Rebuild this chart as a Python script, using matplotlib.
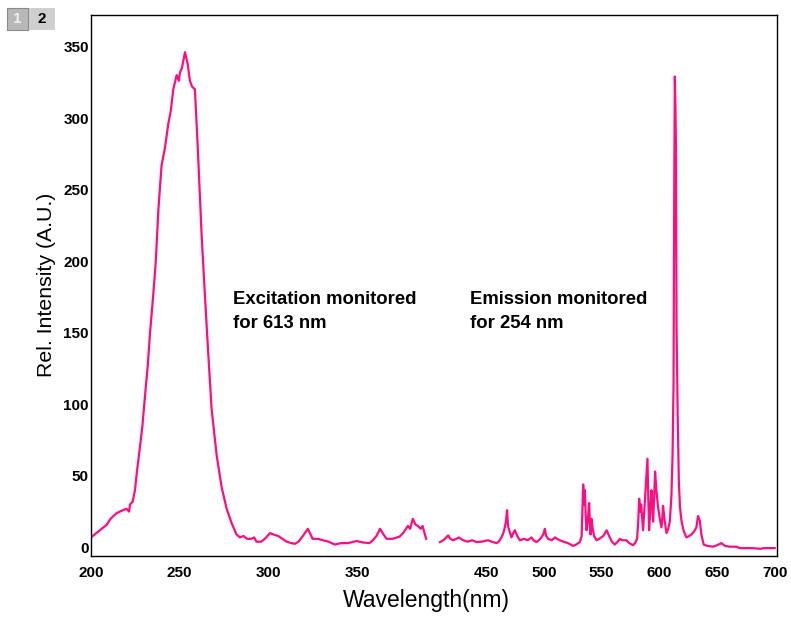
import numpy as np
import matplotlib
matplotlib.use("Agg")
import matplotlib.pyplot as plt
from matplotlib.patches import Rectangle

# excitation spectrum (monitored at 613 nm)
exc_wl = [200, 203, 206, 209, 211, 214.5, 218, 220, 221.5, 222, 223.5, 224.8, 226, 227.6,
          229, 230.4, 232, 233.3, 235, 236.5, 238, 239.8, 241.7, 243.6, 245, 246.4, 248.3,
          249.5, 250.2, 251.3, 253, 254.5, 255.8, 257, 258.6, 260.3, 262.4, 264.3, 266.1,
          268, 270.9, 273.7, 276.5, 279.3, 282.1, 284, 286, 288, 290.5, 292, 293.3, 296,
          298, 301, 303, 305.5, 308, 310.3, 313, 315, 317, 319.5, 322.3, 325, 328, 330.8,
          334, 337.5, 341, 345, 349.8, 353, 357, 359, 361, 363, 365, 366.7, 370, 374,
          376, 378.7, 380, 381.5, 383, 384.3, 386, 387, 389]
exc_val = [7, 10, 13, 16, 20, 24, 26, 27, 25, 30, 32, 40, 54, 70,
           85, 105, 127, 150, 175, 199, 236, 267, 279, 296, 305, 320, 330,
           326, 332, 335, 346, 338, 326, 322, 320, 277, 218, 175, 136,
           97, 64, 42, 27, 17, 9, 7, 8, 6, 6, 7, 4, 4,
           6, 10, 9, 8, 6, 4, 3, 2.5, 4, 8, 13, 6, 6, 5,
           4, 2, 3, 3, 4.5, 3.5, 3, 5, 8, 13, 9, 6, 6, 7.5,
           10, 15, 13, 20, 16, 15, 13, 15, 6]

# emission spectrum (excited at 254 nm)
em_wl = [410, 413, 417.2, 419, 421.5, 424, 426.7, 428, 430.2, 434, 438, 441.8, 446, 451.8,
         455, 459, 461, 463.3, 465, 466.2, 467.2, 468.2, 469, 470, 472, 473.5, 474.9, 477,
         479.2, 483, 486, 489.4, 491, 493.7, 497, 499.5, 500.9, 502, 503.8, 507, 509.6,
         511.5, 513.9, 517, 521, 525.5, 528, 531.2, 532.8, 534.1, 535, 535.6, 536.3, 537,
         538, 539.3, 540, 540.5, 541.3, 542.2, 543.5, 545.7, 548, 551.5, 553, 554.4, 556,
         557.2, 559, 561.5, 564, 565.8, 568, 571.6, 574, 577.4, 579, 580.8, 581.8, 582.6,
         583.5, 584.3, 585.2, 586, 587, 588, 589, 589.8, 590.5, 591.2, 592.2, 593.2, 594,
         594.7, 595.6, 596.4, 597.5, 599, 600.5, 601.9, 602.6, 603.3, 604.8, 606.3, 607.8,
         609.1, 610.5, 611.5, 612.4, 613, 613.5, 614, 614.5, 615, 616, 617, 618, 619.2,
         621, 623.5, 626, 627.9, 630, 632.2, 633.6, 634.5, 635.1, 636.5, 638.5, 642, 646.6,
         650, 653.8, 657, 661, 666.8, 669.7, 675, 680, 688, 690, 700]
em_val = [3.7, 5, 8.4, 6, 5, 6, 7, 6, 5, 4, 5, 3.7, 4, 5,
          4, 3, 4, 7, 10, 14, 18, 26, 15, 12, 7, 10, 12, 8,
          5, 6, 5, 7, 5, 3.7, 6, 9, 13, 8, 6, 5, 7,
          6, 5, 4, 3, 1, 2, 3.7, 8, 44, 30, 40, 22, 12,
          18, 31, 15, 9, 20, 14, 8, 5, 6, 8, 10, 12, 9,
          7, 4, 2, 4, 6, 5, 5, 3, 1.5, 3, 6, 18, 34,
          25, 30, 20, 12, 25, 37, 50, 62, 35, 12, 25, 40, 30,
          18, 35, 53, 40, 28, 20, 14, 20, 29, 18, 10, 13,
          18, 35, 63, 115, 252, 329, 310, 278, 154, 91, 45, 28, 19,
          12, 7, 8, 9, 11, 14, 22, 20, 19, 9, 2, 1, 0.5,
          1.5, 3, 1, 0.5, 0.5, -0.5, -0.5, -0.5, -1, -0.5, -0.5]

x_ticks = [200, 250, 300, 350, 450, 500, 550, 600, 650, 700]
y_ticks = [0, 50, 100, 150, 200, 250, 300, 350]

# the two spectra share one axis but at different nm-per-pixel scales
brk_nm = [150, 390, 410, 720]
brk_px = [2.3, 428, 440, 798]


def fwd(x):
    return np.interp(x, brk_nm, brk_px)


def inv(p):
    return np.interp(p, brk_px, brk_nm)


plt.rcParams['font.family'] = ['Liberation Sans', 'DejaVu Sans']

W, H = 791, 617
fig = plt.figure(figsize=(W / 100, H / 100), dpi=100)
ax = fig.add_axes([91 / W, 61 / H, 686 / W, 541 / H])
ax.set_xscale('function', functions=(fwd, inv))

pink = '#ff0d80'
ax.plot(exc_wl, exc_val, color=pink, lw=1.6)
ax.plot(em_wl, em_val, color=pink, lw=1.6)

ax.set_xlim(200, 702)
ax.set_ylim(-6, 372)
ax.set_xticks(x_ticks)
ax.set_xticklabels([str(t) for t in x_ticks])
ax.set_yticks(y_ticks)
ax.xaxis.set_minor_locator(plt.NullLocator())
ax.tick_params(length=0, labelsize=11)
ax.tick_params(axis='x', pad=7)
ax.tick_params(axis='y', pad=1.5)
for lab in ax.get_xticklabels() + ax.get_yticklabels():
    lab.set_fontweight('bold')
for sp in ax.spines.values():
    sp.set_linewidth(1.0)

fig.text(426 / W, 1 - 601 / H, 'Wavelength(nm)', fontsize=16.5, ha='center', va='center')
fig.text(47 / W, 1 - 285 / H, 'Rel. Intensity (A.U.)', fontsize=15.3, ha='center',
         va='center', rotation=90)

for x0, lines in [(233, ['Excitation monitored', 'for 613 nm']),
                  (470, ['Emission monitored', 'for 254 nm'])]:
    for yb, s in zip([304, 328], lines):
        fig.text(x0 / W, 1 - yb / H, s, fontsize=13.3, fontweight='bold',
                 ha='left', va='baseline')

# the little "1 2" page tabs in the top-left corner
fig.patches.append(Rectangle((7 / W, 1 - 30 / H), 21 / W, 22 / H, transform=fig.transFigure,
                             facecolor='#b8b8b8', edgecolor='#8a8a8a', lw=0.8))
fig.patches.append(Rectangle((29 / W, 1 - 30 / H), 26 / W, 22 / H, transform=fig.transFigure,
                             facecolor='#cfcfcf', edgecolor='none'))
fig.text(17.5 / W, 1 - 19 / H, '1', color='#eeeeee', fontsize=11, fontweight='bold',
         ha='center', va='center')
fig.text(42 / W, 1 - 19 / H, '2', color='black', fontsize=11, fontweight='bold',
         ha='center', va='center')

fig.savefig('out.png', dpi=100)
